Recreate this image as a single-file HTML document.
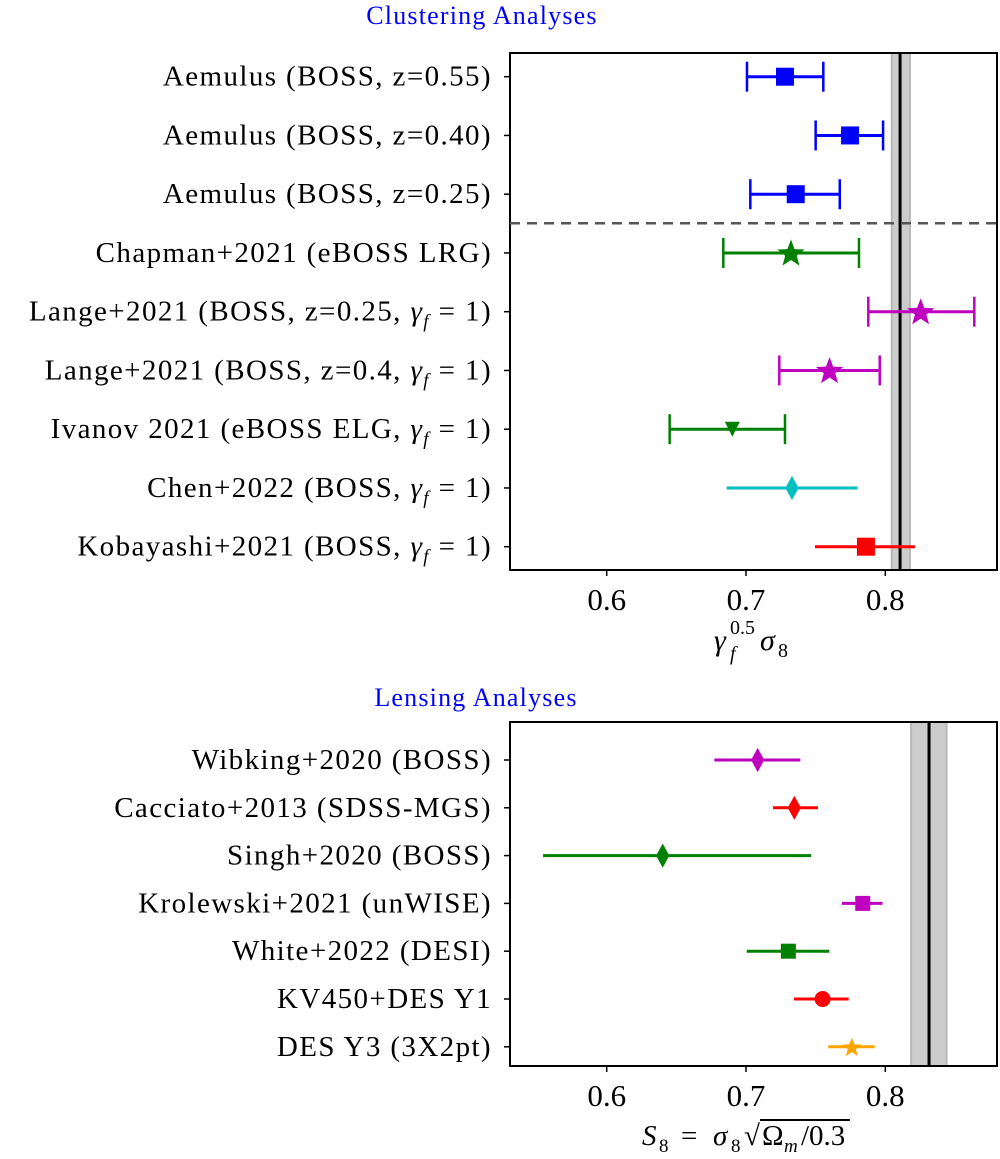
<!DOCTYPE html>
<html><head><meta charset="utf-8"><style>
body{margin:0;background:#fff}
svg{display:block;font-family:"Liberation Serif","DejaVu Serif",serif}
</style></head><body>
<svg id="fig" width="1000" height="1159" viewBox="0 0 1000 1159" xmlns="http://www.w3.org/2000/svg">
<text x="482" y="24" font-size="26" fill="#0000ff" text-anchor="middle" letter-spacing="1.2">Clustering Analyses</text>
<text x="476" y="706" font-size="26" fill="#0000ff" text-anchor="middle" letter-spacing="1.2">Lensing Analyses</text>
<g id="top"></g>
<g id="bot"></g>
<g font-size="30">
<text x="714" y="650" font-style="italic">γ</text>
<text x="730" y="660" font-size="20" font-style="italic">f</text>
<text x="730" y="634" font-size="20">0.5</text>
<text x="760" y="650" font-style="italic">σ</text>
<text x="778" y="657" font-size="20">8</text>
</g>
<g font-size="29">
<text x="642" y="1145" font-style="italic">S</text>
<text x="659" y="1152" font-size="19">8</text>
<text x="681" y="1145">=</text>
<text x="713" y="1145" font-style="italic">σ</text>
<text x="731" y="1152" font-size="19">8</text>
<text x="744" y="1145">√</text>
<line x1="760" x2="850" y1="1120" y2="1120" stroke="#000" stroke-width="2"/>
<text x="762" y="1145">Ω</text>
<text x="784" y="1152" font-size="19" font-style="italic">m</text>
<text x="801" y="1145">/0.3</text>
</g>
</svg>
<script>
const topLabels=["Aemulus (BOSS, z=0.55)","Aemulus (BOSS, z=0.40)","Aemulus (BOSS, z=0.25)","Chapman+2021 (eBOSS LRG)","Lange+2021 (BOSS, z=0.25, |1)","Lange+2021 (BOSS, z=0.4, |1)","Ivanov 2021 (eBOSS ELG, |1)","Chen+2022 (BOSS, |1)","Kobayashi+2021 (BOSS, |1)"];
const topVals=[0.728,0.7747,0.7357,0.7323,0.8254,0.760,0.6902,0.733,0.7861];
const topLo=[0.7007,0.750,0.7031,0.6837,0.7878,0.7239,0.6452,0.6861,0.7495];
const topHi=[0.7555,0.7984,0.7673,0.7811,0.8639,0.796,0.728,0.780,0.8213];
const topMarkers=["s","s","s","*","*","*","v","d","s"];
const topColors=["#0000ff","#0000ff","#0000ff","#008000","#bf00bf","#bf00bf","#008000","#00bfbf","#ff0000"];
const topCaps=[1,1,1,1,1,1,1,0,0];
const topBand=[0.8046,0.8106,0.8177];
const botLabels=["Wibking+2020 (BOSS)","Cacciato+2013 (SDSS-MGS)","Singh+2020 (BOSS)","Krolewski+2021 (unWISE)","White+2022 (DESI)","KV450+DES Y1","DES Y3 (3X2pt)"];
const botVals=[0.7084,0.7347,0.6402,0.7838,0.7304,0.755,0.776];
const botLo=[0.6773,0.7194,0.5543,0.7689,0.7005,0.7345,0.7591];
const botHi=[0.739,0.7517,0.7467,0.798,0.7598,0.7737,0.7924];
const botMarkers=["d","d","d","s","s","o","*"];
const botColors=["#bf00bf","#ff0000","#008000","#bf00bf","#008000","#ff0000","#ffa500"];
const botBand=[0.8185,0.8314,0.844];
const xTicks=[0.6,0.7,0.8];
const xTickLabels=["0.6","0.7","0.8"];

const NS="http://www.w3.org/2000/svg";
const X0=510,X1=997;
function xs(v){return 606.7+(v-0.6)*1393;}
function mk(tag,attrs,parent){const e=document.createElementNS(NS,tag);for(const k in attrs)e.setAttribute(k,attrs[k]);parent.appendChild(e);return e;}
function star(cx,cy,R){let p=[];for(let i=0;i<10;i++){const r=i%2?R*0.42:R;const a=-Math.PI/2+i*Math.PI/5;p.push((cx+r*Math.cos(a)).toFixed(1)+","+(cy+r*Math.sin(a)).toFixed(1));}return p.join(" ");}
function marker(g,type,cx,cy,s,col){
  let e;
  if(type==="s")e=mk("rect",{x:cx-s/2,y:cy-s/2,width:s,height:s,fill:col},g);
  else if(type==="o")e=mk("circle",{cx:cx,cy:cy,r:s/2,fill:col},g);
  else if(type==="*")e=mk("polygon",{points:star(cx,cy+1,s*0.6),fill:col},g);
  else if(type==="v")e=mk("polygon",{points:`${cx-s/2},${cy-s/2} ${cx+s/2},${cy-s/2} ${cx},${cy+s/2}`,fill:col},g);
  else if(type==="d")e=mk("polygon",{points:`${cx},${cy-s*0.55} ${cx+s*0.3},${cy} ${cx},${cy+s*0.55} ${cx-s*0.3},${cy}`,fill:col},g);
  
  
}
function label(g,txt,y){
  const t=mk("text",{x:492,y:y+9,"font-size":"29","letter-spacing":"1.4","text-anchor":"end"},g);
  
  
  const parts=txt.split("|");
  if(parts.length===1){t.textContent=txt;return;}
  const a=mk("tspan",{},t);a.textContent=parts[0];
  const b=mk("tspan",{"font-style":"italic"},t);b.textContent="γ";
  const c=mk("tspan",{"font-style":"italic","font-size":"19",dy:"7"},t);c.textContent="f";
  const d=mk("tspan",{dy:"-7"},t);d.textContent=" = "+parts[1];
}
function chart(g,y0,y1,rowY0,dy,labels,vals,lo,hi,mks,cols,caps,band,sizes,tickY){
  const bl=mk("rect",{x:xs(band[0]),y:y0,width:xs(band[2])-xs(band[0]),height:y1-y0,fill:"#cccccc",stroke:"#b8b8b8","stroke-width":"2"},g);
  
  
  const ln=mk("line",{x1:xs(band[1]),x2:xs(band[1]),y1:y0,y2:y1,stroke:"#000","stroke-width":"3"},g);
  
  
  labels.forEach((lab,i)=>{
    const y=rowY0+i*dy;
    const tk=mk("line",{x1:X0-6,x2:X0,y1:y,y2:y,stroke:"#000","stroke-width":"1.5"},g);
    
    
    label(g,lab,y);
    const eb=mk("line",{x1:xs(lo[i]),x2:xs(hi[i]),y1:y,y2:y,stroke:cols[i],"stroke-width":"3"},g);
    
    
    if(caps&&caps[i]){[lo[i],hi[i]].forEach(v=>{
      const c=mk("line",{x1:xs(v),x2:xs(v),y1:y-15,y2:y+15,stroke:cols[i],"stroke-width":"2.5"},g);
      
      
    });}
    marker(g,mks[i],xs(vals[i]),y,sizes[mks[i]],cols[i]);
  });
  const fr=mk("rect",{x:X0,y:y0,width:X1-X0,height:y1-y0,fill:"none",stroke:"#000","stroke-width":"2"},g);
  
  
  xTicks.forEach((v,i)=>{
    const t=mk("line",{x1:xs(v),x2:xs(v),y1:y1,y2:y1+6,stroke:"#000","stroke-width":"1.5"},g);
    
    
    const tl=mk("text",{x:xs(v),y:tickY,"font-size":"31","text-anchor":"middle"},g);
    
    
    tl.textContent=xTickLabels[i];
  });
}
chart(document.getElementById("top"),53,570,76.7,58.75,topLabels,topVals,topLo,topHi,topMarkers,topColors,topCaps,topBand,{s:18,"*":24,v:15,d:22,o:16},610);
const dl=mk("line",{x1:X0,x2:X1,y1:223.3,y2:223.3,stroke:"#555","stroke-width":"2.5","stroke-dasharray":"10,7"},document.getElementById("top"));


chart(document.getElementById("bot"),722,1066,760,47.8,botLabels,botVals,botLo,botHi,botMarkers,botColors,null,botBand,{s:15,"*":17,v:15,d:22,o:16},1106);
</script>
</body></html>
